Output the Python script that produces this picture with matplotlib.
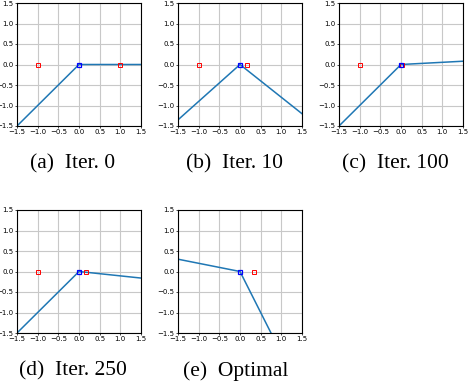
import numpy as np
import matplotlib.pyplot as plt

# piecewise-linear path for each panel: left end, kink, right end
captions = ["(a)  Iter. 0", "(b)  Iter. 10", "(c)  Iter. 100", "(d)  Iter. 250", "(e)  Optimal"]
path_x = [[-1.5, 0.0, 1.5], [-1.5, 0.0, 1.5], [-1.5, 0.0, 1.5], [-1.5, 0.0, 1.5], [-1.5, 0.0, 0.75]]
path_y = [[-1.5, 0.0, 0.0], [-1.35, 0.0, -1.2], [-1.5, 0.0, 0.08], [-1.5, 0.0, -0.16], [0.3, 0.0, -1.5]]
red_x = [[-1.0, 1.0], [-1.0, 0.18], [-1.0, 0.03], [-1.0, 0.16], [0.35]]
ticks = [-1.5, -1.0, -0.5, 0.0, 0.5, 1.0, 1.5]

fig = plt.figure(figsize=(4.68, 3.84), dpi=100)
W, H = 468, 384
boxes = [(17, 3), (178, 3), (339, 3), (17, 210), (178, 210)]
cap_pos = [(73, 164), (234, 164), (395, 164), (73, 371), (236, 371)]

for i in range(5):
    x0, y0 = boxes[i]
    ax = fig.add_axes([x0 / W, 1 - (y0 + 123) / H, 124 / W, 123 / H])
    ax.plot(path_x[i], path_y[i], color="tab:blue", linewidth=1.1)
    ax.plot(red_x[i], np.zeros(len(red_x[i])), "s", markersize=3,
            markerfacecolor="none", markeredgecolor="red", markeredgewidth=0.7)
    ax.plot([0], [0], "s", markersize=3, markerfacecolor="none",
            markeredgecolor="blue", markeredgewidth=0.9)
    ax.set_xlim(-1.5, 1.5)
    ax.set_ylim(-1.5, 1.5)
    ax.set_xticks(ticks)
    ax.set_yticks(ticks)
    ax.tick_params(labelsize=5, length=1.5, width=0.5, pad=1)
    ax.grid(True, color="#c8c8c8", linewidth=0.8)
    for s in ax.spines.values():
        s.set_linewidth(0.8)
    cx, cy = cap_pos[i]
    fig.text(cx / W, 1 - cy / H, captions[i], ha="center", va="center",
             fontsize=15.5, family="Liberation Serif")

fig.savefig("out.png", dpi=100)
